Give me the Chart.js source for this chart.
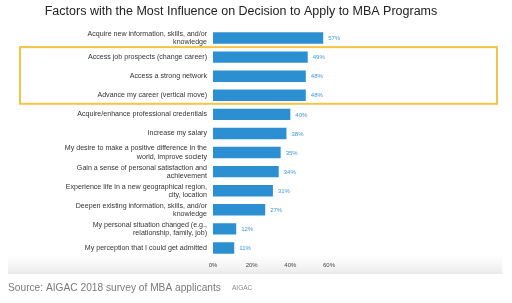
<!DOCTYPE html>
<html>
<head>
<meta charset="utf-8">
<script src="https://cdn.jsdelivr.net/npm/chart.js@4"></script>
<style>
html,body{margin:0;padding:0;background:#fff;}
#wrap{width:512px;height:303px;position:relative;}
</style>
</head>
<body>
<div id="wrap"><canvas id="c" width="512" height="303"></canvas></div>
<script>
const chartTitle = "Factors with the Most Influence on Decision to Apply to MBA Programs";
const sourceText = "Source: AIGAC 2018 survey of MBA applicants";
const sourceTag = "AIGAC";
const categories = [
  ["Acquire new information, skills, and/or", "knowledge"],
  "Access job prospects (change career)",
  "Access a strong network",
  "Advance my career (vertical move)",
  "Acquire/enhance professional credentials",
  "Increase my salary",
  ["My desire to make a positive difference in the", "world, improve society"],
  ["Gain a sense of personal satisfaction and", "achievement"],
  ["Experience life in a new geographical region,", "city, location"],
  ["Deepen existing information, skills, and/or", "knowledge"],
  ["My personal situation changed (e.g.,", "relationship, family, job)"],
  "My perception that I could get admitted"
];
const values = [57, 49, 48, 48, 40, 38, 35, 34, 31, 27, 12, 11];
const xTicks = [0, 20, 40, 60];
const highlighted = [1, 2, 3];

const extras = {
  id: 'extras',
  beforeDraw(chart) {
    const ctx = chart.ctx;
    ctx.save();
    const g = ctx.createLinearGradient(0, 254, 0, 274);
    g.addColorStop(0, 'rgba(242,242,242,0)');
    g.addColorStop(1, 'rgba(234,234,234,1)');
    ctx.fillStyle = g;
    ctx.fillRect(8, 254, 494, 20);
    ctx.restore();
  },
  afterDraw(chart) {
    const ctx = chart.ctx;
    const y = chart.scales.y;
    ctx.save();
    // title
    ctx.fillStyle = '#222';
    ctx.font = '12.5px "Liberation Sans", Arial, sans-serif';
    ctx.textAlign = 'center';
    ctx.textBaseline = 'middle';
    ctx.fillText(chartTitle, 241, 12);
    // data labels
    ctx.fillStyle = '#3d9ad8';
    ctx.font = '6px "Liberation Sans", Arial, sans-serif';
    ctx.textAlign = 'left';
    const meta = chart.getDatasetMeta(0);
    meta.data.forEach((bar, i) => {
      ctx.fillText(values[i] + '%', bar.x + 5, bar.y + 0.5);
    });
    // highlight box
    const t = y.getPixelForValue(highlighted[0]) - 10;
    const b = y.getPixelForValue(highlighted[highlighted.length - 1]) + 8.5;
    ctx.strokeStyle = '#F6C445';
    ctx.lineWidth = 2;
    ctx.strokeRect(20, t, 477, b - t);
    // source
    ctx.fillStyle = '#7a7a7a';
    ctx.font = '10.2px "Liberation Sans", Arial, sans-serif';
    ctx.textBaseline = 'middle';
    ctx.fillText(sourceText, 8, 288);
    ctx.font = '6.5px "Liberation Sans", Arial, sans-serif';
    ctx.fillStyle = '#8a8a8a';
    ctx.fillText(sourceTag, 232, 288);
    ctx.restore();
  }
};

new Chart(document.getElementById('c'), {
  type: 'bar',
  data: {
    labels: categories,
    datasets: [{
      data: values,
      backgroundColor: '#2C8FD2',
      borderWidth: 0,
      categoryPercentage: 1,
      barPercentage: 0.6
    }]
  },
  options: {
    indexAxis: 'y',
    responsive: false,
    animation: false,
    devicePixelRatio: 1,
    layout: { padding: { top: 28.5, bottom: 29.5, left: 0, right: 183 } },
    plugins: { legend: { display: false }, title: { display: false }, tooltip: { enabled: false } },
    scales: {
      x: {
        min: 0, max: 60,
        afterBuildTicks(s) { s.ticks = xTicks.map(v => ({ value: v })); },
        afterFit(s) { s.height = 16; },
        grid: { display: false, drawTicks: false },
        border: { display: false },
        ticks: {
          color: '#444',
          font: { size: 6, family: '"Liberation Sans", Arial, sans-serif' },
          padding: 4,
          callback: v => v + '%'
        }
      },
      y: {
        afterFit(s) { s.width = 213; },
        grid: { display: false, drawTicks: false },
        border: { display: false },
        ticks: {
          color: '#333',
          padding: 6,
          font: { size: 7.1, family: '"Liberation Sans", Arial, sans-serif', lineHeight: 1.15 },
          autoSkip: false
        }
      }
    }
  },
  plugins: [extras]
});
</script>
</body>
</html>
